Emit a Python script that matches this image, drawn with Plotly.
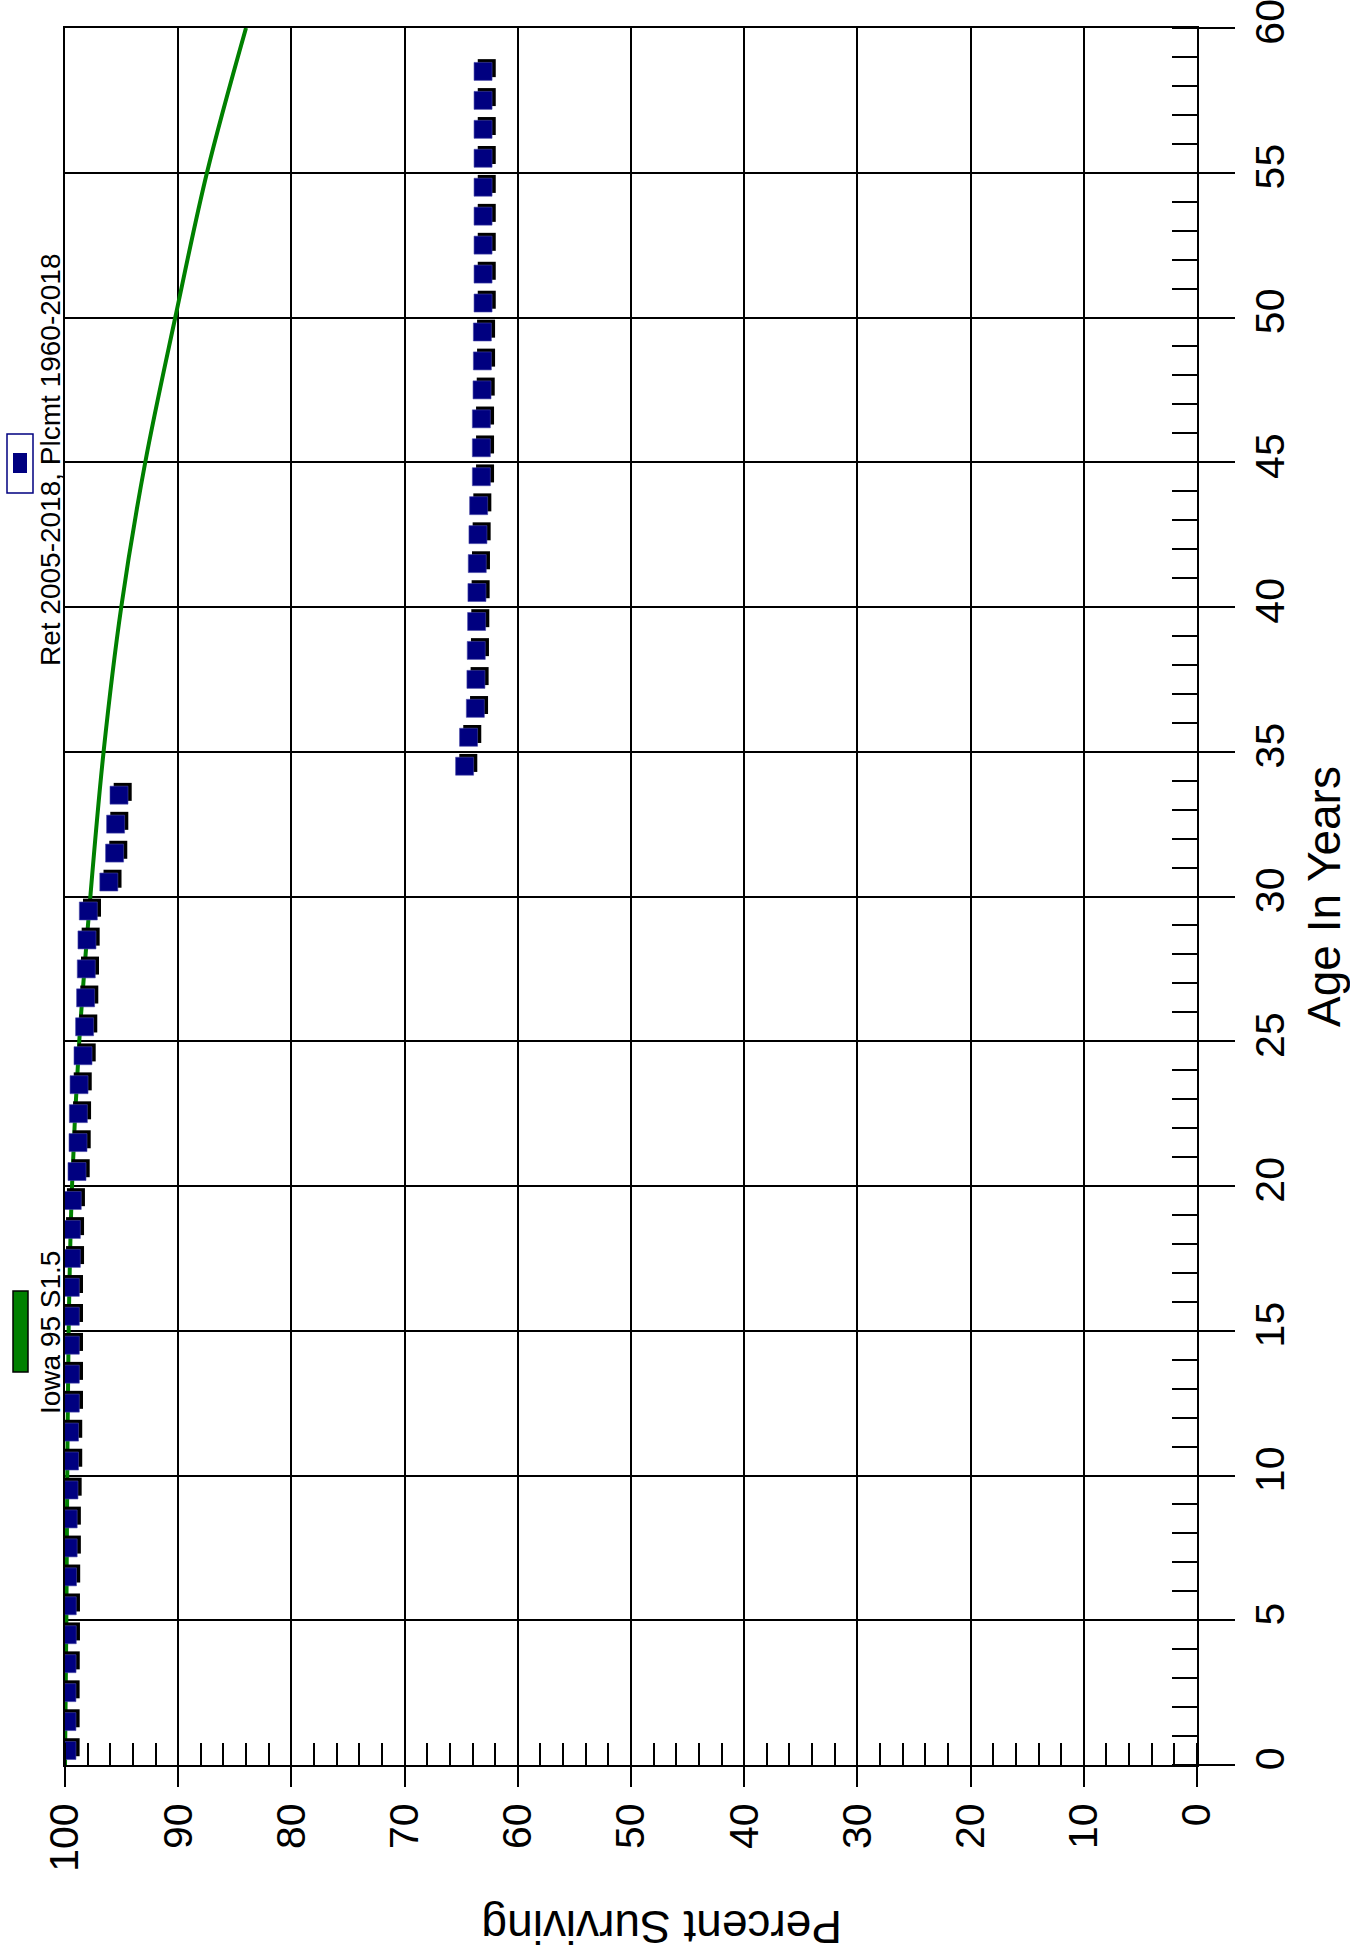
import plotly.graph_objects as go

# ---------------- data ----------------
ages_obs = [0.5, 1.5, 2.5, 3.5, 4.5, 5.5, 6.5, 7.5, 8.5, 9.5,
            10.5, 11.5, 12.5, 13.5, 14.5, 15.5, 16.5, 17.5, 18.5, 19.5,
            20.5, 21.5, 22.5, 23.5, 24.5, 25.5, 26.5, 27.5, 28.5, 29.5,
            30.5, 31.5, 32.5, 33.5, 34.5, 35.5, 36.5, 37.5, 38.5, 39.5,
            40.5, 41.5, 42.5, 43.5, 44.5, 45.5, 46.5, 47.5, 48.5, 49.5,
            50.5, 51.5, 52.5, 53.5, 54.5, 55.5, 56.5, 57.5, 58.5]
pct_obs = [99.83, 99.83, 99.83, 99.82, 99.80, 99.80, 99.78, 99.72, 99.72, 99.65,
           99.60, 99.60, 99.53, 99.53, 99.53, 99.53, 99.53, 99.44, 99.44, 99.36,
           98.94, 98.85, 98.82, 98.76, 98.41, 98.27, 98.18, 98.12, 98.06, 97.94,
           96.13, 95.62, 95.53, 95.23, 64.70, 64.35, 63.75, 63.70, 63.67, 63.64,
           63.61, 63.58, 63.52, 63.46, 63.22, 63.22, 63.22, 63.16, 63.13, 63.13,
           63.07, 63.07, 63.07, 63.07, 63.07, 63.07, 63.07, 63.07, 63.07]

curve_age = [0, 5, 10, 15, 20, 25, 30, 35, 40, 45, 50, 55, 60]
curve_pct = [100.0, 99.88, 99.80, 99.68, 99.38, 98.74, 97.76, 96.59, 95.03, 92.91, 90.26, 87.46, 84.01]

pct_ticks = [100, 90, 80, 70, 60, 50, 40, 30, 20, 10, 0]
age_ticks = [0, 5, 10, 15, 20, 25, 30, 35, 40, 45, 50, 55, 60]

series_curve_name = "Iowa 95 S1.5"
series_obs_name = "Ret 2005-2018, Plcmt 1960-2018"

# ---------------- layout geometry ----------------
W, H = 1350, 1958
L, R, T, B = 65, 153, 28, 193
PW, PH = W - L - R, H - T - B


def px_x(px):
    return (px - L) / PW


def px_y(py):
    return (H - B - py) / PH


FONT = "Liberation Sans, Arial, Helvetica, sans-serif"
NAVY = "#000080"
GREEN = "#008000"

# shadow offset (pixels -> data units)
sh_dx = -3.7 * 100.0 / PW
sh_dy = 3.3 * 60.0 / PH
shadow_x = [p + sh_dx for p in pct_obs]
shadow_y = [a + sh_dy for a in ages_obs]

fig = go.Figure()
fig.add_trace(go.Scatter(x=curve_pct, y=curve_age, mode="lines",
                         line=dict(color=GREEN, width=4, shape="spline"),
                         name=series_curve_name, showlegend=False))
fig.add_trace(go.Scatter(x=shadow_x, y=shadow_y, mode="markers",
                         marker=dict(symbol="square", size=18, color="black",
                                     line=dict(width=0)),
                         showlegend=False, hoverinfo="skip"))
fig.add_trace(go.Scatter(x=pct_obs, y=ages_obs, mode="markers",
                         marker=dict(symbol="square", size=18, color=NAVY,
                                     line=dict(width=0.6, color="#4848a8")),
                         name=series_obs_name, showlegend=False))

axis_common = dict(showline=True, linecolor="black", linewidth=2, mirror=True,
                   showgrid=True, gridcolor="black", gridwidth=2, zeroline=False,
                   tickcolor="black", tickwidth=2, automargin=False,
                   ticklabeloverflow="allow",
                   tickfont=dict(family=FONT, size=41, color="black"))

fig.update_xaxes(range=[100, 0], tickmode="array", tickvals=pct_ticks,
                 ticktext=[str(v) for v in pct_ticks],
                 ticks="outside", ticklen=20, tickangle=-90,
                 minor=dict(dtick=2, ticks="inside", ticklen=22, tickwidth=2,
                            tickcolor="black", showgrid=False),
                 **axis_common)
fig.update_yaxes(range=[0, 60], side="right", tickmode="array", tickvals=age_ticks,
                 ticktext=[str(v) for v in age_ticks],
                 ticks="outside", ticklen=36, tickangle=-90,
                 minor=dict(dtick=1, ticks="inside", ticklen=25, tickwidth=2,
                            tickcolor="black", showgrid=False),
                 **axis_common)

annotations = [
    dict(text="Age In Years", x=px_x(1324), y=px_y(897), xref="paper", yref="paper",
         textangle=-90, showarrow=False, xanchor="center", yanchor="middle",
         font=dict(family=FONT, size=46, color="black")),
    dict(text="Percent Surviving", x=px_x(662), y=px_y(1927), xref="paper", yref="paper",
         textangle=180, showarrow=False, xanchor="center", yanchor="middle",
         font=dict(family=FONT, size=46, color="black")),
    dict(text=series_obs_name, x=px_x(50), y=px_y(460), xref="paper", yref="paper",
         textangle=-90, showarrow=False, xanchor="center", yanchor="middle",
         font=dict(family=FONT, size=28, color="black")),
    dict(text=series_curve_name, x=px_x(50), y=px_y(1333), xref="paper", yref="paper",
         textangle=-90, showarrow=False, xanchor="center", yanchor="middle",
         font=dict(family=FONT, size=28, color="black")),
]

shapes = [
    # legend: green line swatch
    dict(type="rect", xref="paper", yref="paper",
         x0=px_x(13), x1=px_x(28), y0=px_y(1372), y1=px_y(1291),
         fillcolor=GREEN, line=dict(color="black", width=1.5)),
    # legend: marker box
    dict(type="rect", xref="paper", yref="paper",
         x0=px_x(7), x1=px_x(33), y0=px_y(493), y1=px_y(434),
         fillcolor="white", line=dict(color=NAVY, width=1.5)),
    dict(type="rect", xref="paper", yref="paper",
         x0=px_x(13), x1=px_x(27), y0=px_y(473), y1=px_y(453),
         fillcolor=NAVY, line=dict(color=NAVY, width=0)),
]

fig.update_layout(width=W, height=H, margin=dict(l=L, r=R, t=T, b=B, autoexpand=False),
                  plot_bgcolor="white", paper_bgcolor="white",
                  showlegend=False, annotations=annotations, shapes=shapes,
                  font=dict(family=FONT, color="black"))

fig.write_html("out.html")
